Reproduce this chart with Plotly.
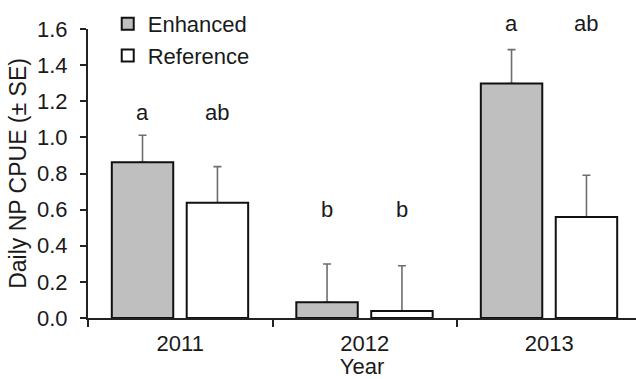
import plotly.graph_objects as go

# Daily NP CPUE by year and site type
years = ["2011", "2012", "2013"]
enhanced = [0.862, 0.087, 1.298]
enhanced_se = [0.150, 0.212, 0.188]
reference = [0.638, 0.039, 0.559]
reference_se = [0.200, 0.250, 0.231]
enhanced_letters = ["a", "b", "a"]
reference_letters = ["ab", "b", "ab"]
letter_y = [1.135, 0.598, 1.633]

FONT = "Arial, Liberation Sans, sans-serif"
TXT = "#1a1a1a"
FS = 22
BAR_W = 0.333
ENH_OFF = -0.371
REF_OFF = 0.035
Y_MAX = 1.6


def se_bars(se):
    return dict(type="data", symmetric=False, array=se,
                arrayminus=[0] * len(se), color="#6e6e6e",
                thickness=1.6, width=4)


fig = go.Figure()
# error bars first so the bar outlines sit on top of their base
fig.add_trace(go.Bar(x=years, y=enhanced, width=BAR_W, offset=ENH_OFF,
                     marker=dict(color="rgba(0,0,0,0)", line=dict(width=0)),
                     error_y=se_bars(enhanced_se), showlegend=False, hoverinfo="skip"))
fig.add_trace(go.Bar(x=years, y=reference, width=BAR_W, offset=REF_OFF,
                     marker=dict(color="rgba(0,0,0,0)", line=dict(width=0)),
                     error_y=se_bars(reference_se), showlegend=False, hoverinfo="skip"))
fig.add_trace(go.Bar(
    x=years, y=enhanced, name="Enhanced",
    width=BAR_W, offset=ENH_OFF,
    marker=dict(color="#bfbfbf", line=dict(color="#111111", width=2)),
))
fig.add_trace(go.Bar(
    x=years, y=reference, name="Reference",
    width=BAR_W, offset=REF_OFF,
    marker=dict(color="#ffffff", line=dict(color="#111111", width=2)),
))


# significance letters above each bar (paper y so letters above the axis top still show)
def to_paper(v):
    return v / Y_MAX


annotations = []
for i in range(len(years)):
    for off, letters in ((ENH_OFF, enhanced_letters), (REF_OFF, reference_letters)):
        annotations.append(dict(x=i + off + BAR_W / 2, y=to_paper(letter_y[i]),
                                text=letters[i], xref="x", yref="paper",
                                xanchor="center", yanchor="middle",
                                showarrow=False, font=dict(size=FS, color=TXT, family=FONT)))

fig.update_layout(
    width=636, height=379,
    margin=dict(l=88, r=0, t=29, b=61),
    paper_bgcolor="white", plot_bgcolor="white",
    barmode="overlay",
    font=dict(family=FONT, size=FS, color=TXT),
    showlegend=True,
    legend=dict(x=0.036, y=1.09, xanchor="left", yanchor="top",
                bgcolor="rgba(0,0,0,0)", font=dict(size=FS, color=TXT, family=FONT),
                itemwidth=30, tracegroupgap=0),
    annotations=annotations,
    xaxis=dict(
        type="category", range=[-0.5, 2.47],
        showline=True, linecolor="#222222", linewidth=2,
        ticks="outside", tickson="boundaries", ticklen=7, tickwidth=2, tickcolor="#222222",
        showgrid=False, zeroline=False,
        ticklabelstandoff=5,
        title=dict(text="Year", standoff=3, font=dict(size=FS, color=TXT)),
        tickfont=dict(size=FS, color=TXT),
    ),
    yaxis=dict(
        range=[0, Y_MAX], dtick=0.2, tickformat=".1f",
        showline=True, linecolor="#222222", linewidth=2,
        ticks="outside", ticklen=6, tickwidth=2, tickcolor="#222222",
        showgrid=False, zeroline=False,
        ticklabelstandoff=8,
        title=dict(text="Daily NP CPUE (± SE)", standoff=4, font=dict(size=23, color=TXT)),
        tickfont=dict(size=FS, color=TXT),
    ),
)

fig.write_html("out.html")
